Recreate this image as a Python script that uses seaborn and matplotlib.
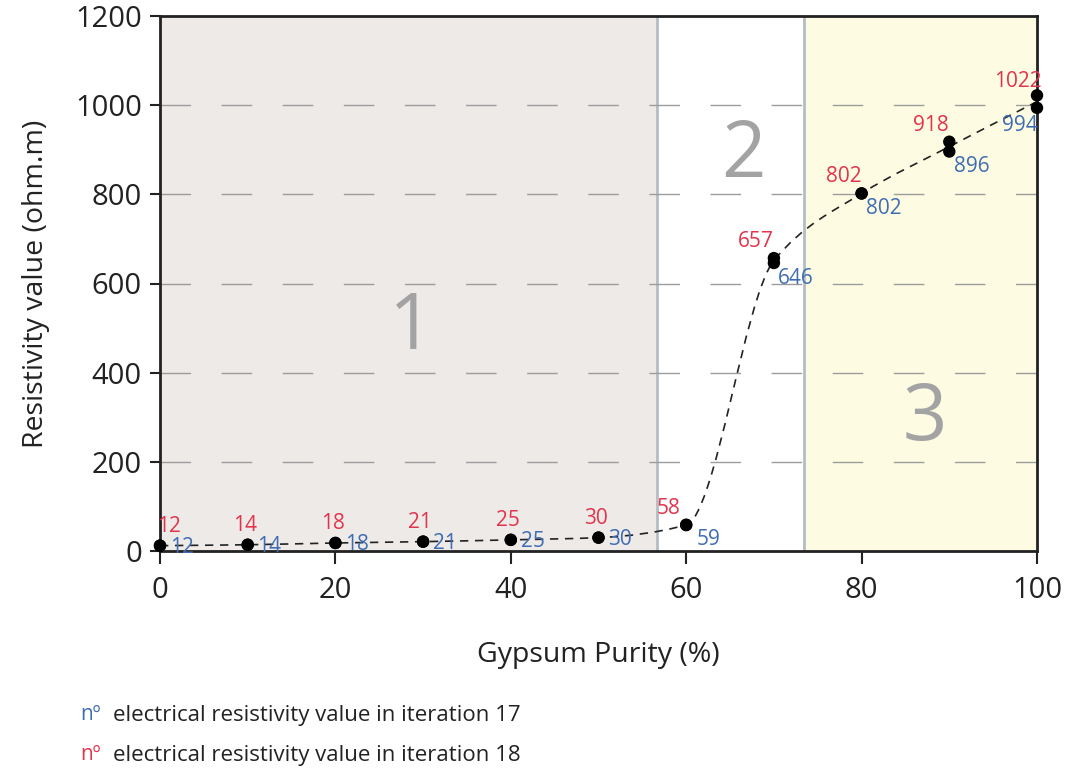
import numpy as np
import pandas as pd
import matplotlib
matplotlib.use("Agg")
import matplotlib.pyplot as plt
from matplotlib.path import Path
from matplotlib.patches import PathPatch
import seaborn as sns

# ---- data ----
purity = [0, 10, 20, 30, 40, 50, 60, 70, 80, 90, 100]
iter17 = [12, 14, 18, 21, 25, 30, 59, 646, 802, 896, 994]
iter18 = [12, 14, 18, 21, 25, 30, 58, 657, 802, 918, 1022]
zone_edges = [0, 56.7, 73.4, 100]
zone_names = ["1", "2", "3"]
zone_label_pos = [(28.7, 500), (66.5, 884), (87.2, 295)]
yticks = [0, 200, 400, 600, 800, 1000, 1200]
xticks = [0, 20, 40, 60, 80, 100]

RED = "#E2344C"
BLUE = "#3F6DB3"

sns.set_theme(style="white")
plt.rcParams["font.family"] = ["Open Sans", "DejaVu Sans"]

fig = plt.figure(figsize=(10.67, 7.71), dpi=100)
ax = fig.add_axes([160 / 1067, (771 - 551) / 771, 877 / 1067, 535 / 771])
ax.set_xlim(0, 100)
ax.set_ylim(0, 1200)

# zones
ax.axvspan(zone_edges[0], zone_edges[1], color="#EDEAE8", zorder=0, lw=0)
ax.axvspan(zone_edges[2], zone_edges[3], color="#FDFCE2", zorder=0, lw=0)
for xe in zone_edges[1:3]:
    ax.axvline(xe, color="#B5BCC3", lw=2, zorder=1)
for name, (zx, zy) in zip(zone_names, zone_label_pos):
    ax.text(zx, zy, name, fontsize=56, color="#A3A3A3", ha="center", va="center", zorder=1)

# grid
for yv in yticks[1:-1]:
    ax.axhline(yv, color="#9C9C9C", lw=1, dashes=(22, 22), zorder=1.5)

# smooth dashed trend curve (monotone cubic Bezier through mean values)
xm = np.array(purity, dtype=float)
ym = (np.array(iter17) + np.array(iter18)) / 2.0
sec = np.diff(ym) / np.diff(xm)
tan = np.zeros_like(ym)
tan[0], tan[-1] = sec[0], sec[-1]
for i in range(1, len(xm) - 1):
    a, b = sec[i - 1], sec[i]
    tan[i] = 2 * a * b / (a + b) if a * b > 0 else 0.0
verts = [(xm[0], ym[0])]
codes = [Path.MOVETO]
for i in range(len(xm) - 1):
    h = xm[i + 1] - xm[i]
    verts += [(xm[i] + h / 3, ym[i] + tan[i] * h / 3),
              (xm[i + 1] - h / 3, ym[i + 1] - tan[i + 1] * h / 3),
              (xm[i + 1], ym[i + 1])]
    codes += [Path.CURVE4] * 3
ax.add_patch(PathPatch(Path(verts, codes), fill=False, edgecolor="#222222",
                       lw=1.2, linestyle=(0, (5, 4)), zorder=2))

# dots
long = pd.concat([
    pd.DataFrame({"purity": purity, "value": iter17}),
    pd.DataFrame({"purity": purity, "value": iter18}),
])
sns.scatterplot(data=long, x="purity", y="value", color="black", s=80,
                edgecolor="none", ax=ax, zorder=4, clip_on=False)

# value labels
for xv, b, r in zip(purity, iter17, iter18):
    if xv <= 50:
        roff = (-2, 14); boff = (7, -1)
        rha = "left" if xv == 0 else "center"
        bha = "left"
    elif xv == 100:
        roff = (-14, 10); boff = (-12, -13)
        rha = "center"; bha = "center"
    else:
        roff = (-13, 12); boff = (16, -11)
        rha = "center"; bha = "center"
    ax.annotate(str(r), (xv, r), textcoords="offset points", xytext=roff,
                color=RED, fontsize=15, ha=rha, va="center", zorder=5)
    ax.annotate(str(b), (xv, b), textcoords="offset points", xytext=boff,
                color=BLUE, fontsize=15, ha=bha, va="center", zorder=5)

# axes styling
for s in ax.spines.values():
    s.set_visible(True)
    s.set_color("#222222")
    s.set_linewidth(2)
ax.set_xticks(xticks)
ax.set_yticks(yticks)
ax.tick_params(axis="y", direction="out", length=7, width=1.5, pad=6,
               labelsize=21, colors="#222222", left=True)
ax.tick_params(axis="x", direction="out", length=9, width=1.5, pad=9,
               labelsize=21, colors="#222222", bottom=True)
ax.set_xlabel("Gypsum Purity (%)", fontsize=20.5, color="#222222", labelpad=26)
ax.set_ylabel("Resistivity value (ohm.m)", fontsize=20.5, color="#222222", labelpad=18)

# custom legend
fig.text(80 / 1067, 1 - 715 / 771, "nº", color=BLUE, fontsize=15, va="center")
fig.text(113 / 1067, 1 - 715 / 771, "electrical resistivity value in iteration 17",
         color="#222222", fontsize=16, va="center")
fig.text(80 / 1067, 1 - 755 / 771, "nº", color=RED, fontsize=15, va="center")
fig.text(113 / 1067, 1 - 755 / 771, "electrical resistivity value in iteration 18",
         color="#222222", fontsize=16, va="center")

fig.savefig("out.png", dpi=100)
